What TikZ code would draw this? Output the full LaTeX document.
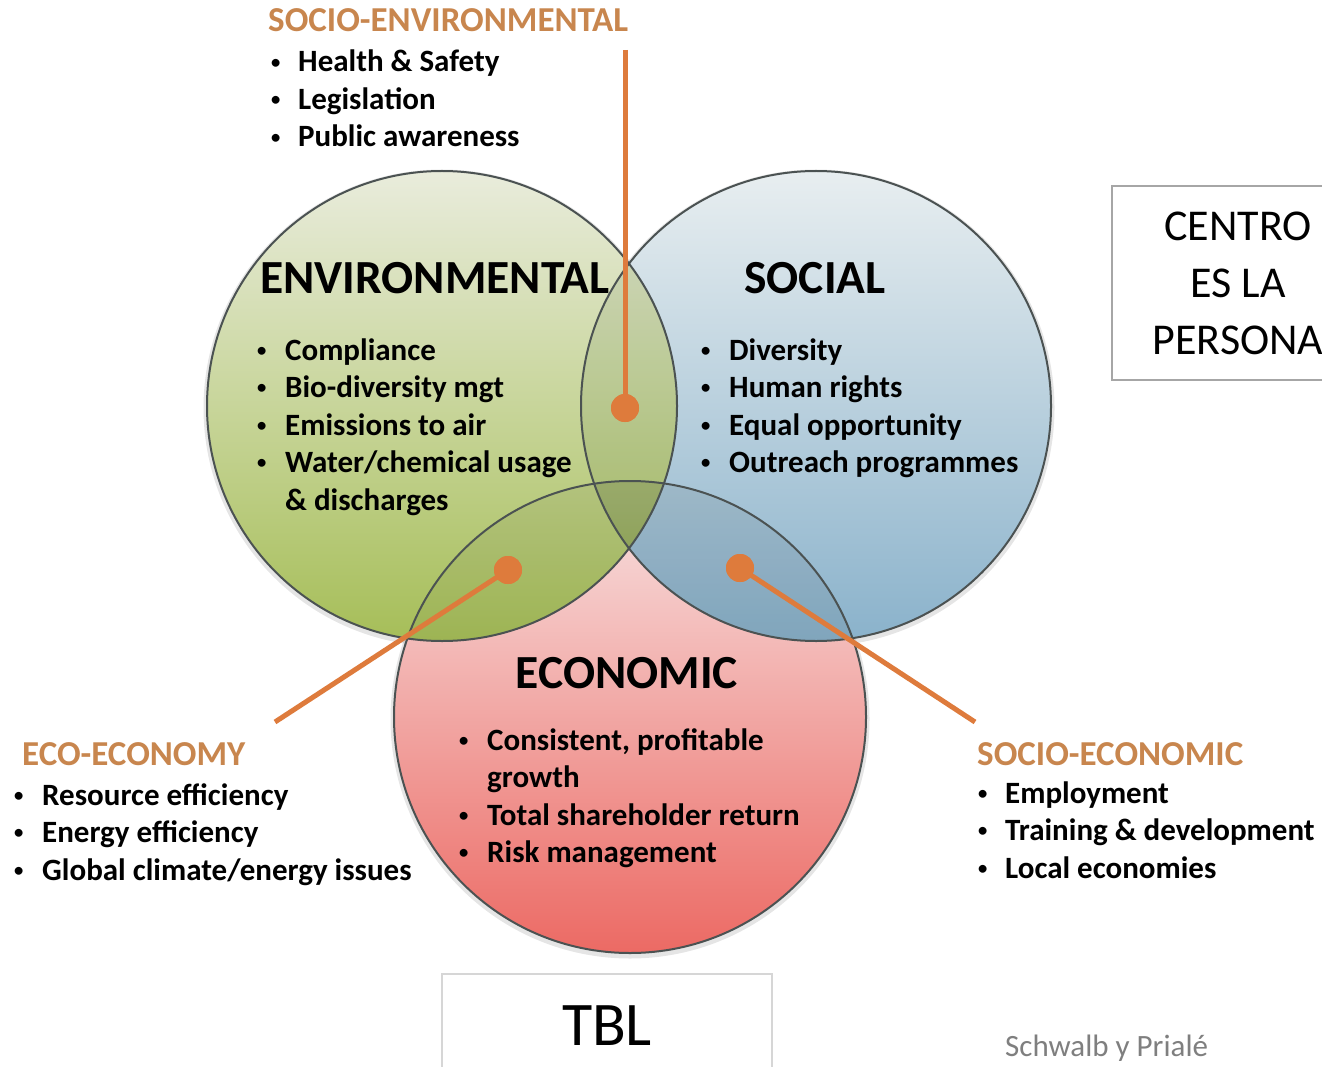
\documentclass[tikz,border=0pt]{standalone}
\usepackage{fontspec}
\setmainfont{Carlito}
\definecolor{envT}{HTML}{E9ECDC}
\definecolor{envM}{HTML}{CAD79E}
\definecolor{envB}{HTML}{A6BE58}
\definecolor{socT}{HTML}{E8EEF0}
\definecolor{socM}{HTML}{BCD2DD}
\definecolor{socB}{HTML}{8AB2CB}
\definecolor{ecoT}{HTML}{F7E3E3}
\definecolor{ecoM}{HTML}{F3B8B8}
\definecolor{ecoB}{HTML}{EC6A64}
\definecolor{rim}{HTML}{4B5252}
\definecolor{orn}{HTML}{DE7B3C}
\definecolor{head}{HTML}{C8864E}
\definecolor{boxA}{HTML}{A6A6A6}
\definecolor{boxB}{HTML}{D6D6D6}
\definecolor{credit}{HTML}{7F7F7F}
\newcommand{\bul}{\raisebox{0.12em}{\scalebox{0.6}{\textbullet}}}
\begin{document}
\begin{tikzpicture}[x=1pt,y=-1pt,
  lst/.style={anchor=base west, inner sep=0pt, font=\bfseries\fontsize{31pt}{37.5pt}\selectfont},
  bighead/.style={anchor=base, inner sep=0pt, font=\bfseries\fontsize{47.5pt}{50pt}\selectfont},
  sidehead/.style={anchor=base west, inner sep=0pt, text=head, font=\bfseries\fontsize{35pt}{38pt}\selectfont},
  conn/.style={draw=orn, line width=5pt},
  dotnode/.style={circle, fill=orn, minimum size=28pt, inner sep=0pt},
  rimline/.style={draw=rim, line width=2pt},
  shadowline/.style={draw=black, opacity=0.10, line width=7pt}
]
\useasboundingbox (0,0) rectangle (1322,1067);
\clip (0,0) rectangle (1322,1067);

\coordinate (envc) at (442,406);
\coordinate (socc) at (816,406);
\coordinate (ecoc) at (630,717);

% shadows
\path[shadowline] ([yshift=-2pt]ecoc) circle (236pt);
\path[shadowline] ([yshift=-2pt]socc) circle (235pt);
\path[shadowline] ([yshift=-2pt]envc) circle (235pt);

% fills
\shade[top color=ecoT, middle color=ecoM, bottom color=ecoB] (ecoc) circle (236pt);
\shade[top color=socT, middle color=socM, bottom color=socB] (socc) circle (235pt);
\shade[top color=envT, middle color=envM, bottom color=envB] (envc) circle (235pt);

% darken overlaps
\begin{scope}
  \clip (envc) circle (235pt);
  \fill[black!60!green!40!black, opacity=0.08] (socc) circle (235pt);
  \fill[black, opacity=0.05] (ecoc) circle (236pt);
\end{scope}
\begin{scope}
  \clip (socc) circle (235pt);
  \fill[black, opacity=0.07] (ecoc) circle (236pt);
\end{scope}

% outlines
\path[rimline] (ecoc) circle (236pt);
\path[rimline] (socc) circle (235pt);
\path[rimline] (envc) circle (235pt);

% headings in circles
\node[bighead] (envh) at (435,294) {ENVIRONMENTAL};
\node[bighead] (soch) at (815,294) {SOCIAL};
\node[bighead] (ecoh) at (627,688) {ECONOMIC};

% lists in circles
\node[lst] (envl) at (257,360) {\begin{tabular}[t]{@{}p{28pt}@{}l@{}}
\bul & Compliance\\
\bul & Bio-diversity mgt\\
\bul & Emissions to air\\
\bul & Water/chemical usage\\
 & \& discharges
\end{tabular}};
\node[lst] (socl) at (701,360) {\begin{tabular}[t]{@{}p{28pt}@{}l@{}}
\bul & Diversity\\
\bul & Human rights\\
\bul & Equal opportunity\\
\bul & Outreach programmes
\end{tabular}};
\node[lst] (ecol) at (459,750) {\begin{tabular}[t]{@{}p{28pt}@{}l@{}}
\bul & Consistent, profitable\\
 & growth\\
\bul & Total shareholder return\\
\bul & Risk management
\end{tabular}};

% outer headings and lists
\node[sidehead] (seh) at (268,32) {SOCIO-ENVIRONMENTAL};
\node[lst] (sel) at (271,72) {\begin{tabular}[t]{@{}p{27pt}@{}l@{}}
\bul & Health \& Safety\\
\bul & Legislation\\
\bul & Public awareness
\end{tabular}};
\node[sidehead] (eeh) at (22,765) {ECO-ECONOMY};
\node[lst] (eel) at (14,805) {\begin{tabular}[t]{@{}p{28pt}@{}l@{}}
\bul & Resource efficiency\\
\bul & Energy efficiency\\
\bul & Global climate/energy issues
\end{tabular}};
\node[sidehead] (seoh) at (977,765) {SOCIO-ECONOMIC};
\node[lst] (seol) at (978,803) {\begin{tabular}[t]{@{}p{27pt}@{}l@{}}
\bul & Employment\\
\bul & Training \& development\\
\bul & Local economies
\end{tabular}};

% connectors
\node[dotnode] (d1) at (625,408) {};
\node[dotnode] (d2) at (508,570) {};
\node[dotnode] (d3) at (740,568) {};
\coordinate (e1) at (625,50);
\coordinate (e2) at (275,722);
\coordinate (e3) at (975,722);
\draw[conn] (e1) -- (d1.center);
\draw[conn] (d2.center) -- (e2);
\draw[conn] (d3.center) -- (e3);
\node[dotnode] at (d1) {};
\node[dotnode] at (d2) {};
\node[dotnode] at (d3) {};

% boxes
\node[draw=boxA, line width=1.5pt, minimum width=252pt, minimum height=194pt, inner sep=0pt,
      align=center, font=\fontsize{44pt}{57pt}\selectfont] (centro) at (1238,283) {CENTRO\\ES LA\\PERSONA};
\node[draw=boxB, line width=1.5pt, minimum width=330pt, minimum height=160pt, inner sep=0pt,
      anchor=north] (tblbox) at (607,973) {};
\node[anchor=base, inner sep=0pt, font=\fontsize{62pt}{66pt}\selectfont] (tbl) at (607,1045) {TBL};
\node[anchor=base west, inner sep=0pt, text=credit, font=\fontsize{31pt}{36pt}\selectfont] (cred) at (1005,1056) {Schwalb y Prialé};
\end{tikzpicture}
\end{document}
